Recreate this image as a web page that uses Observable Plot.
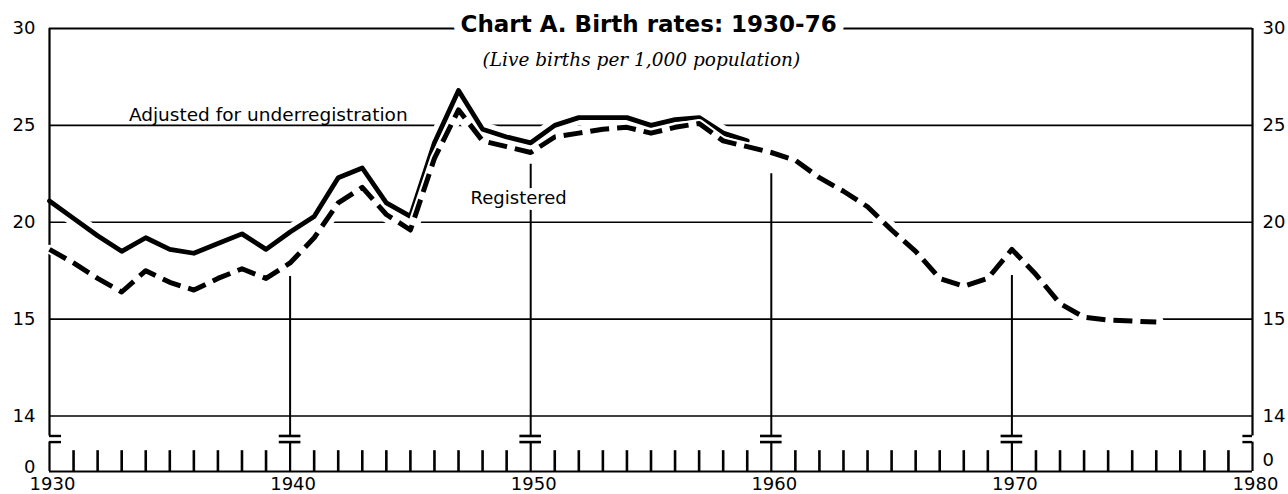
<!DOCTYPE html>
<html><head><meta charset="utf-8">
<script src="https://cdn.jsdelivr.net/npm/d3@7"></script>
<script src="https://cdn.jsdelivr.net/npm/@observablehq/plot@0.6"></script>
<style>
html,body{margin:0;padding:0;background:#fff;}
svg{display:block;}
</style></head><body><div id="chart"></div>
<script>
// ---- data ----
const adjustedYears = [1930,1931,1932,1933,1934,1935,1936,1937,1938,1939,1940,1941,1942,1943,1944,1945,1946,1947,1948,1949,1950,1951,1952,1953,1954,1955,1956,1957,1958,1959];
const adjustedValues = [21.1,20.2,19.3,18.5,19.2,18.6,18.4,18.9,19.4,18.6,19.5,20.3,22.3,22.8,21.0,20.3,24.1,26.8,24.8,24.4,24.1,25.0,25.4,25.4,25.4,25.0,25.3,25.4,24.6,24.2];

const registeredYears = [1930,1931,1932,1933,1934,1935,1936,1937,1938,1939,1940,1941,1942,1943,1944,1945,1946,1947,1948,1949,1950,1951,1952,1953,1954,1955,1956,1957,1958,1959,1960,1961,1962,1963,1964,1965,1966,1967,1968,1969,1970,1971,1972,1973,1974,1975,1976];
const registeredValues = [18.6,17.9,17.1,16.4,17.5,16.9,16.5,17.1,17.6,17.1,17.9,19.2,21.0,21.8,20.4,19.6,23.3,25.8,24.2,23.9,23.6,24.4,24.6,24.8,24.9,24.6,24.9,25.1,24.2,23.9,23.6,23.2,22.3,21.6,20.8,19.6,18.5,17.1,16.7,17.1,18.6,17.3,15.8,15.1,14.95,14.9,14.85];

const yTickValues = [30, 25, 20, 15, 10];
const yTickLabels = ["30", "25", "20", "15", "14"];
const gridValues = [25, 20, 15, 10];
const xTickYears = [1930, 1940, 1950, 1960, 1970, 1980];
const decadeYears = [1940, 1950, 1960, 1970];
const decadeLineTops = [17.2, 23.0, 22.5, 17.25];
const minorYears = d3.range(1931, 1980).filter(y => y % 10 !== 0);

const titleText = "Chart A. Birth rates: 1930-76";
const subtitleText = "(Live births per 1,000 population)";
const adjustedLabel = "Adjusted for underregistration";
const registeredLabel = "Registered";

const adjusted = adjustedYears.map((y, i) => ({year: y, value: adjustedValues[i]}));
const registered = registeredYears.map((y, i) => ({year: y, value: registeredValues[i]}));
const decades = decadeYears.map((y, i) => ({year: y, top: decadeLineTops[i]}));
const labelMap = new Map(yTickValues.map((v, i) => [v, yTickLabels[i]]));
const breakMarks = decadeYears.flatMap(y => [{year: y, v: 6.4}, {year: y, v: 5.3}]);

const breakHi = 6.4, breakLo = 5.3, tickTop = 3.75;
const sans = "DejaVu Sans, Liberation Sans, Arial, sans-serif";

const chart = Plot.plot({
  width: 1288,
  height: 494,
  marginLeft: 49, marginRight: 36, marginTop: 28, marginBottom: 23,
  x: {type: "linear", domain: [1930, 1980]},
  y: {type: "linear", domain: [0, 10, 30], range: [471, 415.5, 28]},
  style: {fontFamily: sans, fontSize: "18px", color: "#000", background: "#fff", overflow: "visible"},
  marks: [
    // gridlines
    Plot.ruleY(gridValues, {x1: 1930, x2: 1980, stroke: "#000", strokeWidth: 1.6}),
    Plot.ruleY([30], {x1: 1930, x2: 1980, stroke: "#000", strokeWidth: 2.2}),
    // white halos under the series
    Plot.line(adjusted, {x: "year", y: "value", stroke: "#fff", strokeWidth: 15}),
    Plot.line(registered, {x: "year", y: "value", stroke: "#fff", strokeWidth: 15}),
    // frame verticals with breaks
    Plot.ruleX([1930, 1980], {y1: breakHi, y2: 30, stroke: "#000", strokeWidth: 2.2}),
    Plot.ruleX([1930, 1980], {y1: 0, y2: breakLo, stroke: "#000", strokeWidth: 2.2}),
    Plot.ruleY([breakHi, breakLo], {x1: 1930, x2: 1930.5, stroke: "#000", strokeWidth: 2.4}),
    Plot.ruleY([breakHi, breakLo], {x1: 1979.6, x2: 1980, stroke: "#000", strokeWidth: 2.4}),
    // decade verticals with break marks
    Plot.ruleX(decades, {x: "year", y1: breakHi, y2: "top", stroke: "#000", strokeWidth: 2}),
    Plot.ruleX(decadeYears, {y1: 0, y2: breakLo, stroke: "#000", strokeWidth: 2.2}),
    Plot.ruleY(breakMarks, {y: "v", x1: d => d.year - 0.45, x2: d => d.year + 0.45, stroke: "#000", strokeWidth: 2.6}),
    // minor year ticks and baseline
    Plot.ruleX(minorYears, {y1: 0, y2: tickTop, stroke: "#000", strokeWidth: 2.6}),
    Plot.ruleY([0], {x1: 1930, x2: 1980, stroke: "#000", strokeWidth: 2.2}),
    // series
    Plot.line(adjusted, {x: "year", y: "value", stroke: "#000", strokeWidth: 4.8}),
    Plot.line(registered, {x: "year", y: "value", stroke: "#fff", strokeWidth: 9}),
    Plot.line(registered, {x: "year", y: "value", stroke: "#000", strokeWidth: 5, strokeDasharray: "19,8", strokeLinecap: "butt"}),
    // texts
    Plot.text([titleText], {x: 1954.9, y: 30.2, text: d => d, fontSize: 23, fontWeight: "bold", fontFamily: sans,
      fill: "#000", stroke: "#fff", strokeWidth: 16, paintOrder: "stroke", textAnchor: "middle"}),
    Plot.text([subtitleText], {x: 1954.6, y: 28.35, text: d => d, fontSize: 18.5, fontStyle: "italic",
      fontFamily: "DejaVu Serif, Liberation Serif, serif", fill: "#000", textAnchor: "middle"}),
    Plot.text([adjustedLabel], {x: 1933.3, y: 25.55, text: d => d, fontSize: 18.5, fontFamily: sans,
      fill: "#000", textAnchor: "start"}),
    Plot.text([registeredLabel], {x: 1947.5, y: 21.25, text: d => d, fontSize: 18, fontFamily: sans,
      fill: "#000", stroke: "#fff", strokeWidth: 12, paintOrder: "stroke", textAnchor: "start"}),
    // axes
    Plot.axisY(yTickValues, {anchor: "left", tickSize: 0, tickPadding: 14, tickFormat: d => labelMap.get(d), fontSize: 18, label: null}),
    Plot.axisY(yTickValues, {anchor: "right", tickSize: 0, tickPadding: 10, tickFormat: d => labelMap.get(d), fontSize: 18, label: null}),
    Plot.axisY([0], {anchor: "left", tickSize: 0, tickPadding: 14, dy: -4, tickFormat: () => "0", fontSize: 18, label: null}),
    Plot.axisY([0], {anchor: "right", tickSize: 0, tickPadding: 10, dy: -11, tickFormat: () => "0", fontSize: 18, label: null}),
    Plot.axisX(xTickYears, {anchor: "bottom", tickSize: 0, tickPadding: 6, dx: 3, tickFormat: d => String(d), fontSize: 18, label: null})
  ]
});
document.getElementById("chart").appendChild(chart);
</script>
</body></html>
